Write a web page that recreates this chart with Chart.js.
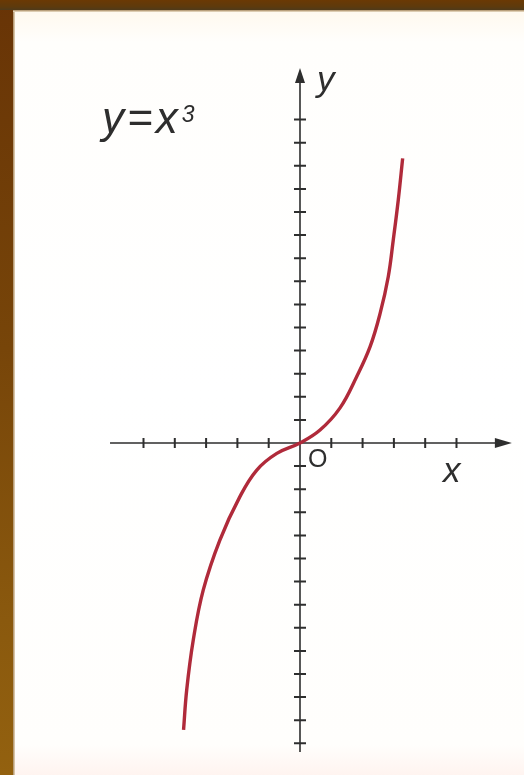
<!DOCTYPE html>
<html>
<head>
<meta charset="utf-8">
<title>y = x³</title>
<script src="https://cdn.jsdelivr.net/npm/chart.js@4.4.1/dist/chart.umd.min.js"></script>
<style>
  html, body { margin: 0; padding: 0; width: 524px; height: 775px; overflow: hidden; background: #fffefa; }
  #left  { position: absolute; left: 0; top: 0; width: 13px; height: 775px;
           background: linear-gradient(to bottom, #683406, #774509 45%, #8a590e 80%, #93610f); }
  #top   { position: absolute; left: 0; top: 0; width: 524px; height: 10px;
           background: linear-gradient(to bottom, #6b3904, #5e3a0c 65%, #4f3a1a); }
  #edgeL { position: absolute; left: 13px; top: 10px; width: 2px; height: 765px;
           background: linear-gradient(to right, #a88a62, #e8d8be); }
  #edgeT { position: absolute; left: 13px; top: 10px; width: 511px; height: 2px;
           background: linear-gradient(to bottom, #a88a62, #efe2cc); }
  #paper { position: absolute; left: 15px; top: 12px; width: 509px; height: 763px;
           background: linear-gradient(to bottom, #fff9ef, #fffefc 4%, #ffffff 50%, #fffefc 96%, #fff4f0); }
  canvas { position: absolute; left: 0; top: 0; }
</style>
</head>
<body>
<div id="left"></div>
<div id="top"></div>
<div id="edgeL"></div>
<div id="edgeT"></div>
<div id="paper"></div>
<canvas id="plot" width="524" height="775"></canvas>
<script>
// Points along the cubic curve (x in x-tick units, y in y-tick units)
const curveX = [-3.72, -3.62, -3.41, -3.09, -2.56, -1.92, -1.38, -0.74, 0, 0.64, 1.28, 1.81, 2.24, 2.56, 2.82, 2.98, 3.14, 3.28];
const curveY = [-12.42, -10.69, -8.53, -6.36, -4.20, -2.32, -1.17, -0.45, 0, 0.56, 1.52, 2.87, 4.17, 5.61, 7.20, 8.79, 10.52, 12.32];

// Tick marks on each axis
const xTicks = [-5, -4, -3, -2, -1, 1, 2, 3, 4, 5];
const yTicks = [-13, -12, -11, -10, -9, -8, -7, -6, -5, -4, -3, -2, -1, 1, 2, 3, 4, 5, 6, 7, 8, 9, 10, 11, 12, 13, 14];

// Drawn extent of each axis line (arrow tip on the positive end)
const xAxisExtent = [-6.07, 6.77];
const yAxisExtent = [-13.38, 16.23];

// Visible window of the coordinate plane
const xWindow = [-9.585, 7.157];
const yWindow = [-14.372, 19.177];

const INK = '#2e2e2e';
const FACE = '"Liberation Sans", Arial, sans-serif';

const axesPlugin = {
  id: 'cubicAxes',
  beforeDatasetsDraw(chart) {
    const { ctx, scales: { x, y } } = chart;
    const x0 = x.getPixelForValue(0);
    const y0 = y.getPixelForValue(0);
    const xl = x.getPixelForValue(xAxisExtent[0]);
    const xr = x.getPixelForValue(xAxisExtent[1]);
    const yb = y.getPixelForValue(yAxisExtent[0]);
    const yt = y.getPixelForValue(yAxisExtent[1]);
    ctx.save();
    ctx.strokeStyle = INK;
    ctx.fillStyle = INK;
    ctx.lineWidth = 1.6;

    // axis lines
    ctx.beginPath();
    ctx.moveTo(xl, y0); ctx.lineTo(xr - 10, y0);
    ctx.moveTo(x0, yb); ctx.lineTo(x0, yt + 10);
    ctx.stroke();

    // arrow heads
    ctx.beginPath();
    ctx.moveTo(xr, y0); ctx.lineTo(xr - 17, y0 - 5); ctx.lineTo(xr - 17, y0 + 5); ctx.closePath();
    ctx.fill();
    ctx.beginPath();
    ctx.moveTo(x0, yt); ctx.lineTo(x0 - 5, yt + 15); ctx.lineTo(x0 + 5, yt + 15); ctx.closePath();
    ctx.fill();

    // tick marks
    ctx.lineWidth = 2;
    ctx.beginPath();
    xTicks.forEach(v => {
      const px = x.getPixelForValue(v);
      ctx.moveTo(px, y0 - 5); ctx.lineTo(px, y0 + 5);
    });
    yTicks.forEach(v => {
      const py = y.getPixelForValue(v);
      ctx.moveTo(x0 - 6, py); ctx.lineTo(x0 + 6, py);
    });
    ctx.stroke();
    ctx.restore();
  },
  afterDatasetsDraw(chart) {
    const { ctx, scales: { x, y } } = chart;
    const x0 = x.getPixelForValue(0);
    const y0 = y.getPixelForValue(0);
    const xr = x.getPixelForValue(xAxisExtent[1]);
    const yt = y.getPixelForValue(yAxisExtent[1]);
    ctx.save();
    ctx.fillStyle = INK;
    ctx.textBaseline = 'alphabetic';
    ctx.textAlign = 'left';

    // axis names and origin
    ctx.font = 'italic 35px ' + FACE;
    ctx.fillText('y', x0 + 17, yt + 23);
    ctx.fillText('x', xr - 69, y0 + 39);
    ctx.font = '25px ' + FACE;
    ctx.fillText('O', x0 + 8, y0 + 24);

    // function label
    ctx.font = 'italic 44px ' + FACE;
    ctx.letterSpacing = '3px';
    const bx = 102, by = 133;
    ctx.fillText('y=x', bx, by);
    const w = ctx.measureText('y=x').width;
    ctx.letterSpacing = '0px';
    ctx.font = 'italic 23px ' + FACE;
    ctx.fillText('3', bx + w + 1, by - 11);
    ctx.restore();
  }
};

new Chart(document.getElementById('plot'), {
  type: 'scatter',
  data: {
    datasets: [{
      label: 'y = x³',
      data: curveX.map((v, i) => ({ x: v, y: curveY[i] })),
      showLine: true,
      borderColor: '#b02a3a',
      borderWidth: 3.4,
      pointRadius: 0,
      tension: 0.4,
      fill: false
    }]
  },
  options: {
    responsive: false,
    animation: false,
    layout: { padding: 0 },
    plugins: { legend: { display: false }, tooltip: { enabled: false } },
    scales: {
      x: { type: 'linear', min: xWindow[0], max: xWindow[1], display: false },
      y: { type: 'linear', min: yWindow[0], max: yWindow[1], display: false }
    }
  },
  plugins: [axesPlugin]
});
</script>
</body>
</html>
